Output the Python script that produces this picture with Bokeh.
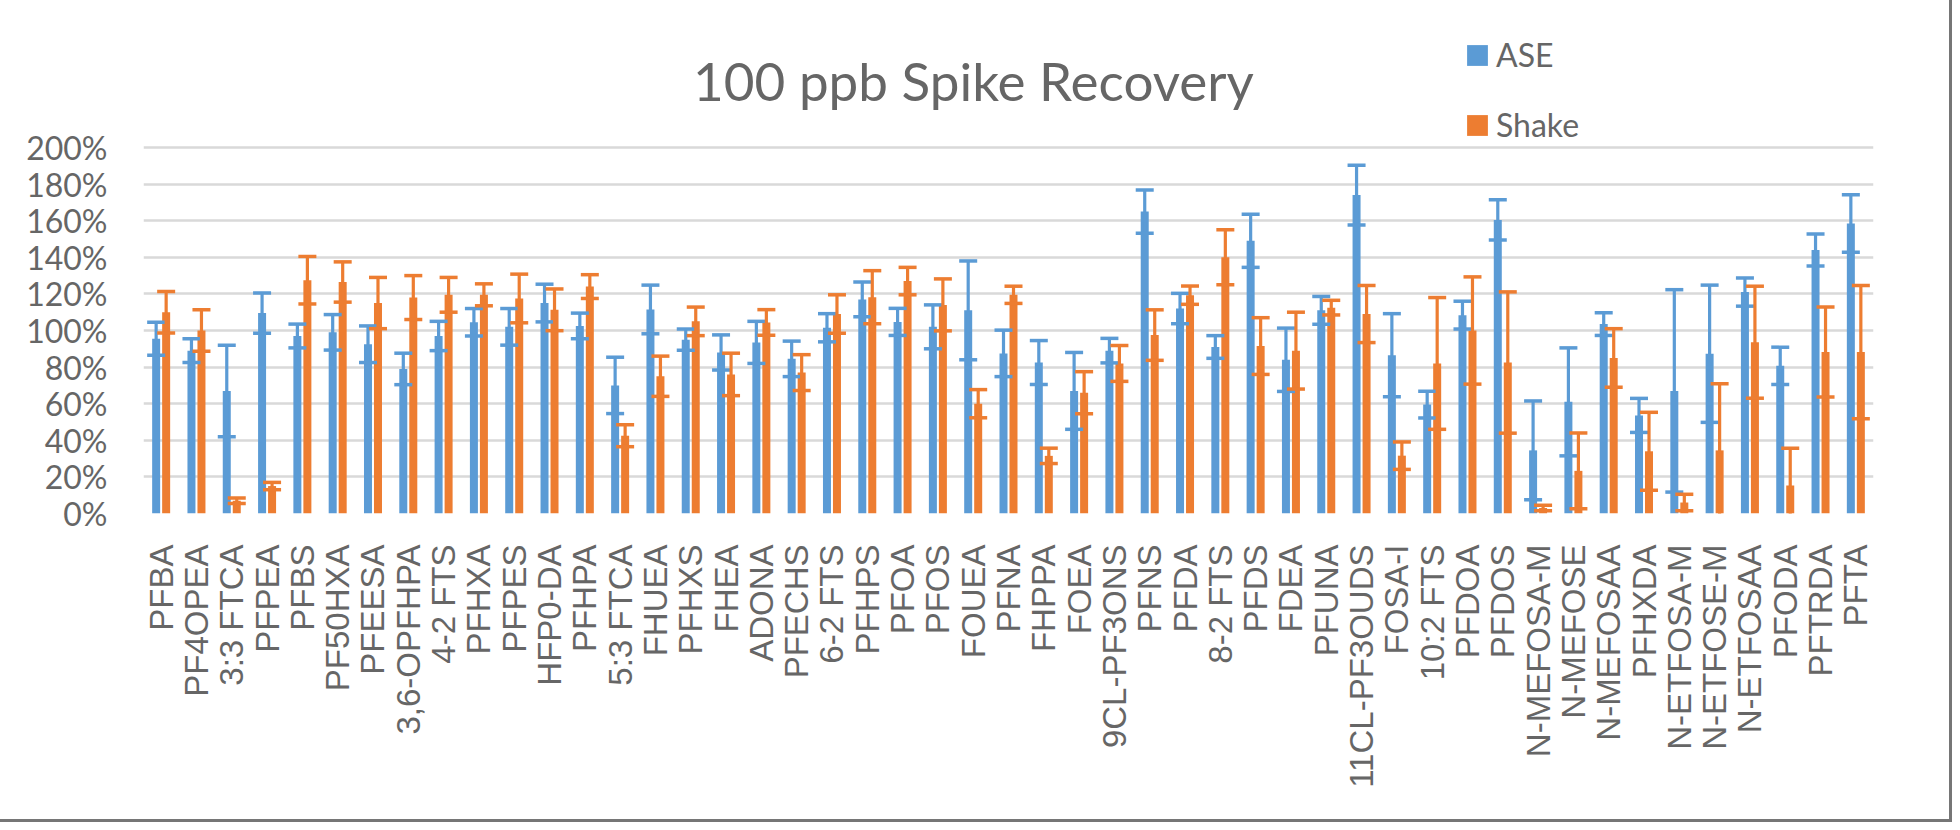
import math
from bokeh.plotting import figure
from bokeh.models import (ColumnDataSource, FactorRange, Range1d, Whisker, TeeHead, FixedTicker,
                          PrintfTickFormatter, Legend, LegendItem, Label)
from bokeh.transform import dodge
from bokeh.embed import file_html
from bokeh.resources import INLINE

categories = ["PFBA", "PF4OPEA", "3:3 FTCA", "PFPEA", "PFBS", "PF50HXA", "PFEESA",
              "3,6-OPFHPA", "4-2 FTS", "PFHXA", "PFPES", "HFP0-DA", "PFHPA", "5:3 FTCA",
              "FHUEA", "PFHXS", "FHEA", "ADONA", "PFECHS", "6-2 FTS", "PFHPS", "PFOA",
              "PFOS", "FOUEA", "PFNA", "FHPPA", "FOEA", "9CL-PF3ONS", "PFNS", "PFDA",
              "8-2 FTS", "PFDS", "FDEA", "PFUNA", "11CL-PF3OUDS", "FOSA-I", "10:2 FTS",
              "PFDOA", "PFDOS", "N-MEFOSA-M", "N-MEFOSE", "N-MEFOSAA", "PFHXDA",
              "N-ETFOSA-M", "N-ETFOSE-M", "N-ETFOSAA", "PFODA", "PFTRDA", "PFTA"]

ase = [95.5, 89, 67, 109.5, 97, 99, 92.5, 79, 97, 104.5, 102, 115, 102.5, 70, 111.5,
       95, 88, 93.5, 84.5, 101.5, 117, 104.7, 102, 111, 87.5, 82.5, 67, 89, 165, 112,
       91, 149, 84, 111, 174, 86.5, 59.5, 108.4, 160.4, 34.5, 61, 103.5, 53.6, 67,
       87.3, 121, 80.7, 144, 158.5]
ase_err = [9, 6.5, 25, 11, 6.5, 9.7, 10, 8.6, 8, 7.5, 10, 10.3, 7, 15.4, 13.3, 5.8,
           9.6, 11.5, 9.7, 7.7, 9.5, 7.4, 12, 27, 12.7, 12, 21, 6.7, 11.8, 8.3, 6.2,
           14.5, 17.3, 7.6, 16.3, 22.7, 7.3, 7.6, 11, 27, 29.5, 6.2, 9.3, 55.3, 37.5,
           7.7, 10.2, 8.7, 15.7]
shake = [110, 100, 7, 15, 127.5, 126.5, 115, 118, 119.5, 119.5, 117.5, 111.3, 124,
         42.5, 75, 105, 76, 104.4, 77, 109, 118.2, 127, 114, 60, 119.5, 31.5, 66, 82,
         97.5, 119.3, 140, 91.5, 89, 112.5, 109, 31.6, 82, 100, 82.5, 3, 23.3, 85, 34,
         6, 34.5, 93.6, 15.3, 88.2, 88.2]
shake_err = [11.3, 11.3, 1.5, 2, 13, 11, 14, 12, 9.5, 6, 13.3, 11.4, 6.5, 6, 11, 7.8,
             11.6, 7, 9.8, 10.5, 14.5, 7.5, 14.2, 7.7, 4.7, 4.2, 11.5, 9.8, 13.8, 5, 15,
             15.5, 21, 4, 15.6, 7.5, 36, 29.3, 38.6, 1.5, 20.7, 16, 21.3, 4.5, 36.4,
             30.6, 20.3, 24.6, 36.4]

title_text = "100 ppb Spike Recovery"
series_names = ["ASE", "Shake"]
y_ticks = [0, 20, 40, 60, 80, 100, 120, 140, 160, 180, 200]

BLUE = "#5B9BD5"
ORANGE = "#ED7D31"
TEXT = "#666666"
GRID = "#D9D9D9"

src = ColumnDataSource(dict(
    cat=categories, ase=ase, shake=shake,
    ase_up=[v + e for v, e in zip(ase, ase_err)],
    ase_lo=[v - e for v, e in zip(ase, ase_err)],
    shake_up=[v + e for v, e in zip(shake, shake_err)],
    shake_lo=[v - e for v, e in zip(shake, shake_err)],
))

# layout geometry (pixels)
W, H = 1944, 814
FL, FR, FT, FB = 143, 1873, 8, 513     # frame edges
AXIS_TOP_PX = 147                        # where 200% sits
px_per_unit = (FB - AXIS_TOP_PX) / 200.0
y_end = 200 + (AXIS_TOP_PX - FT) / px_per_unit

p = figure(width=W, height=H, x_range=FactorRange(*categories),
           y_range=Range1d(0, y_end), title=None,
           output_backend="svg", toolbar_location=None,
           min_border_left=FL, min_border_right=W - FR, min_border_top=FT,
           min_border_bottom=H - FB)

OFF = 0.1416
BW = 0.2266
r1 = p.vbar(x=dodge("cat", -OFF, range=p.x_range), top="ase", width=BW, source=src,
            fill_color=BLUE, line_color=None)
r2 = p.vbar(x=dodge("cat", OFF, range=p.x_range), top="shake", width=BW, source=src,
            fill_color=ORANGE, line_color=None)

for col, off, color in (("ase", -OFF, BLUE), ("shake", OFF, ORANGE)):
    w = Whisker(source=src, base=dodge("cat", off, range=p.x_range),
                upper=col + "_up", lower=col + "_lo", line_color=color, line_width=3.2,
                upper_head=TeeHead(size=18, line_color=color, line_width=3.5),
                lower_head=TeeHead(size=18, line_color=color, line_width=3.5),
                level="annotation")
    p.add_layout(w)

# hidden twins of the bars, only used to draw square legend swatches
k1 = p.vbar(x=dodge("cat", -OFF, range=p.x_range), top="ase", width=26, width_units="screen",
            source=src, fill_color=BLUE, line_color=None, visible=False)
k2 = p.vbar(x=dodge("cat", OFF, range=p.x_range), top="shake", width=26, width_units="screen",
            source=src, fill_color=ORANGE, line_color=None, visible=False)

legend = Legend(items=[LegendItem(label=series_names[0], renderers=[k1]),
                       LegendItem(label=series_names[1], renderers=[k2])],
                location=(1321, 369), orientation="vertical",
                glyph_width=26, glyph_height=26, label_standoff=6, spacing=31,
                padding=0, margin=0, border_line_color=None, background_fill_alpha=0,
                inactive_fill_alpha=0,
                label_text_font="Lato", label_text_font_size="32px", label_text_color=TEXT)
p.add_layout(legend)

title = Label(x=830, y=FB - 80, x_units="screen", y_units="screen", text=title_text,
              text_align="center", text_baseline="alphabetic",
              text_font="Lato", text_font_size="53px", text_color=TEXT)
p.add_layout(title)

p.xaxis.major_label_orientation = math.pi / 2
p.xaxis.major_label_text_font = "Liberation Sans"
p.xaxis.major_label_text_font_size = "33px"
p.xaxis.major_label_text_color = TEXT
p.xaxis.major_label_standoff = 31
p.xaxis.major_tick_out = 0
p.xaxis.major_tick_in = 0
p.xaxis.axis_line_color = None
p.xaxis.major_tick_line_color = None
p.xaxis.minor_tick_line_color = None

p.yaxis.ticker = FixedTicker(ticks=y_ticks)
p.yaxis.formatter = PrintfTickFormatter(format="%d%%")
p.yaxis.major_label_text_font = "Lato"
p.yaxis.major_label_text_font_size = "32px"
p.yaxis.major_label_text_color = TEXT
p.yaxis.major_label_standoff = 36
p.yaxis.major_tick_out = 0
p.yaxis.major_tick_in = 0
p.yaxis.axis_line_color = None
p.yaxis.major_tick_line_color = None
p.yaxis.minor_tick_line_color = None

p.xgrid.grid_line_color = None
p.ygrid.grid_line_color = GRID
p.ygrid.grid_line_width = 2.5

p.outline_line_color = None
p.background_fill_color = "white"
p.border_fill_color = "white"
p.styles = {"outline": "3px solid #767676", "outline-offset": "5px"}

open("out.html", "w").write(file_html(p, INLINE))
